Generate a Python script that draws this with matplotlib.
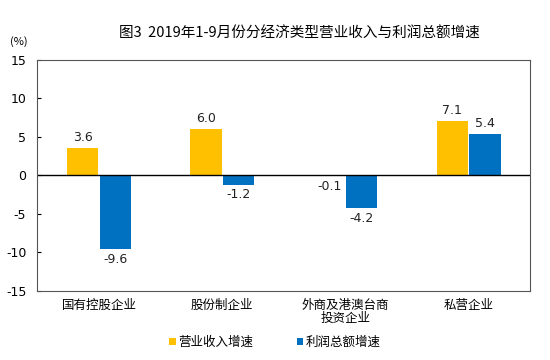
import numpy as np
import matplotlib.pyplot as plt

plt.rcParams['font.family'] = ['Noto Sans CJK SC', 'DejaVu Sans']

categories = ['国有控股企业', '股份制企业', '外商及港澳台商\n投资企业', '私营企业']
revenue = [3.6, 6.0, -0.1, 7.1]
profit = [-9.6, -1.2, -4.2, 5.4]
series_names = ['营业收入增速', '利润总额增速']
yticks = [-15, -10, -5, 0, 5, 10, 15]

fig = plt.figure(figsize=(5.5, 3.6), dpi=100)
ax = fig.add_axes([0.068, 0.192, 0.896, 0.642])

x = np.arange(len(categories))
w = 0.255
b1 = ax.bar(x - w / 2 - 0.005, revenue, w, color='#FFC000', label=series_names[0])
b2 = ax.bar(x + w / 2 + 0.005, profit, w, color='#0070C0', label=series_names[1])

for rects, vals in ((b1, revenue), (b2, profit)):
    for r, v in zip(rects, vals):
        cx = r.get_x() + r.get_width() / 2
        if v >= 0:
            ax.text(cx, v + 0.5, f'{v:.1f}', ha='center', va='bottom', fontsize=9,
                    family='DejaVu Sans', color='#222222')
        else:
            ax.text(cx, v - 0.5, f'{v:.1f}', ha='center', va='top', fontsize=9,
                    family='DejaVu Sans', color='#222222')

ax.axhline(0, color='black', linewidth=1.0)
ax.set_xlim(-0.5, len(categories) - 0.5)
ax.set_ylim(-15, 15)
ax.set_yticks(yticks)
ax.set_yticklabels([str(t) for t in yticks], fontsize=9, family='DejaVu Sans')
ax.tick_params(axis='y', direction='in', length=3, pad=8)
ax.set_xticks(x)
ax.set_xticklabels(categories, fontsize=9, linespacing=1.0)
ax.tick_params(axis='x', length=0, pad=6)
for s in ax.spines.values():
    s.set_color('#555555')
    s.set_linewidth(0.8)

fig.text(0.035, 0.875, '(%)', fontsize=8, ha='center')
fig.text(0.545, 0.905, '图3  2019年1-9月份分经济类型营业收入与利润总额增速',
         fontsize=10.5, ha='center', va='center')

fig.legend(handles=[b1, b2], labels=series_names, loc='center', bbox_to_anchor=(0.5, 0.05),
           ncol=2, frameon=False, fontsize=9, handlelength=0.5, handleheight=0.5,
           handletextpad=0.2, columnspacing=3.5)

fig.savefig('out.png', dpi=100)
